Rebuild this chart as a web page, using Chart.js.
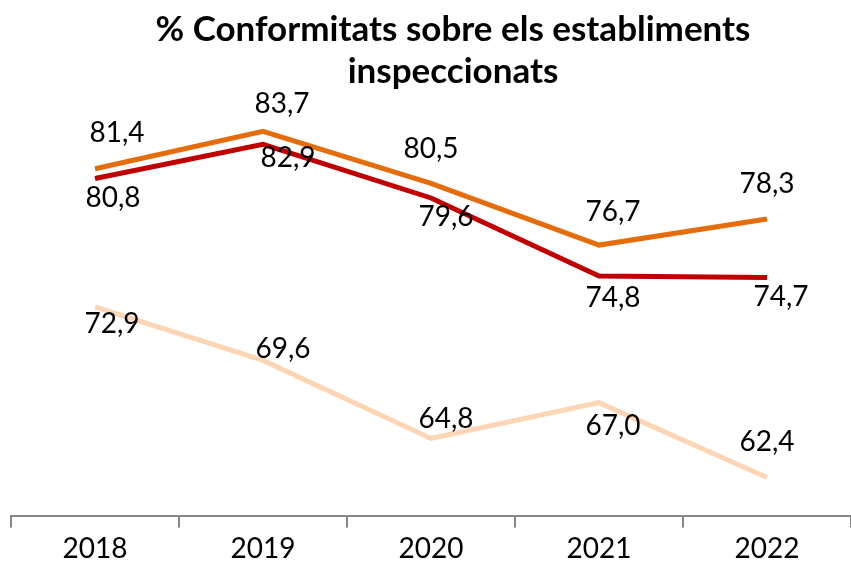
<!DOCTYPE html>
<html>
<head>
<meta charset="utf-8">
<script src="https://cdn.jsdelivr.net/npm/chart.js@4/dist/chart.umd.min.js"></script>
<style>
html,body{margin:0;padding:0;background:#fff;}
#wrap{width:851px;height:571px;position:relative;}
</style>
</head>
<body>
<div id="wrap"><canvas id="c"></canvas></div>
<script>
const categories = ['2018', '2019', '2020', '2021', '2022'];
const seriesOrange = [81.4, 83.7, 80.5, 76.7, 78.3];
const seriesRed = [80.8, 82.9, 79.6, 74.8, 74.7];
const seriesPeach = [72.9, 69.6, 64.8, 67.0, 62.4];
const titleLines = ['% Conformitats sobre els establiments', 'inspeccionats'];

const FONT = 'Lato, "Open Sans", sans-serif';

// label offsets (style only) relative to each point
const labelOffsets = [
  [[22,-36],[19,-27],[0,-34],[14,-33],[0,-35]],
  [[18,19],[25,14],[15,19],[14,22],[14,19]],
  [[17,17],[20,-11],[15,-19],[14,23],[0,-35]]
];

const fmt = v => v.toFixed(1).replace('.', ',');

const labelPlugin = {
  id: 'pointLabels',
  afterDatasetsDraw(chart) {
    const ctx = chart.ctx;
    ctx.save();
    ctx.font = '28px ' + FONT;
    ctx.fillStyle = '#000';
    ctx.textAlign = 'center';
    ctx.textBaseline = 'middle';
    chart.data.datasets.forEach((ds, di) => {
      const meta = chart.getDatasetMeta(di);
      meta.data.forEach((el, i) => {
        const o = labelOffsets[di][i];
        ctx.fillText(fmt(ds.data[i]), el.x + o[0], el.y + o[1]);
      });
    });
    ctx.restore();
  }
};

const titlePlugin = {
  id: 'customTitle',
  afterDraw(chart) {
    const ctx = chart.ctx;
    ctx.save();
    ctx.font = 'bold 35px ' + FONT;
    ctx.fillStyle = '#000';
    ctx.textAlign = 'center';
    ctx.textBaseline = 'middle';
    ctx.fillText(titleLines[0], 453, 30);
    ctx.fillText(titleLines[1], 453, 72);
    ctx.restore();
  }
};

new Chart(document.getElementById('c'), {
  type: 'line',
  data: {
    labels: categories,
    datasets: [
      { data: seriesOrange, borderColor: '#E46C0A' },
      { data: seriesRed, borderColor: '#C00000' },
      { data: seriesPeach, borderColor: '#FCD5B5' }
    ]
  },
  options: {
    responsive: true,
    maintainAspectRatio: false,
    animation: false,
    layout: { padding: { left: 11, right: 0, top: 94, bottom: 0 } },
    elements: {
      line: { borderWidth: 5, tension: 0, borderCapStyle: 'butt', borderJoinStyle: 'miter', fill: false },
      point: { radius: 0, hoverRadius: 0 }
    },
    plugins: { legend: { display: false }, title: { display: false }, tooltip: { enabled: false } },
    scales: {
      y: { display: false, min: 60, max: 86 },
      x: {
        offset: true,
        grid: { offset: true, drawOnChartArea: false, drawTicks: true, tickLength: 11, color: '#868686', lineWidth: 2 },
        border: { display: true, color: '#868686', width: 2 },
        ticks: { color: '#000', font: { family: FONT, size: 28 }, padding: 5 }
      }
    }
  },
  plugins: [labelPlugin, titlePlugin]
});
</script>
</body>
</html>
